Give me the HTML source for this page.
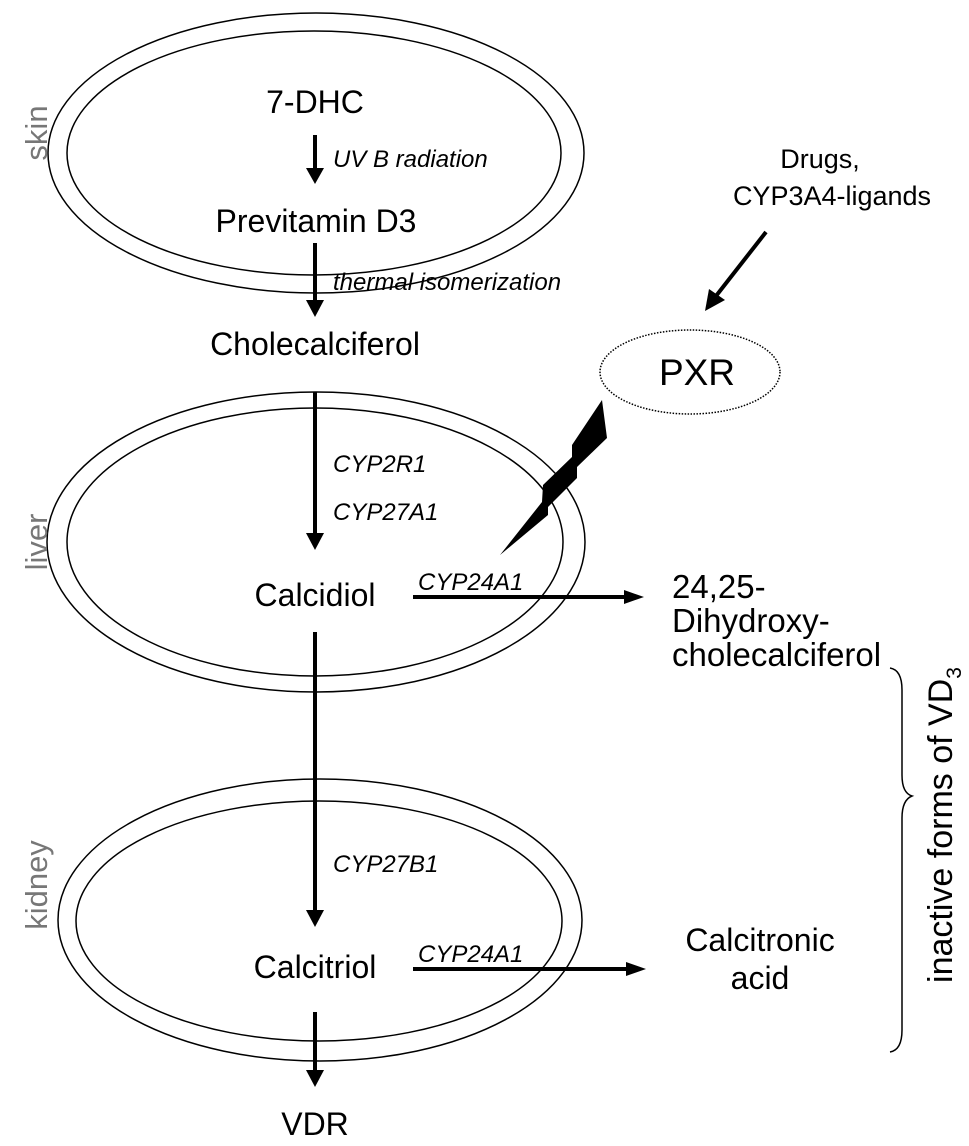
<!DOCTYPE html>
<html><head><meta charset="utf-8"><style>
html,body{margin:0;padding:0;background:#fff;}
svg{display:block;}
text{font-family:"Liberation Sans",Arial,sans-serif;fill:#000;}
.it{font-style:italic;font-size:24px;}
.big{font-size:32px;}
.org{font-size:31px;fill:#777;}
</style></head><body>
<svg width="969" height="1146" viewBox="0 0 969 1146" xmlns="http://www.w3.org/2000/svg">
<g fill="none" stroke="#000" stroke-width="1.5">
<ellipse cx="316" cy="153" rx="268" ry="140"/>
<ellipse cx="314" cy="153" rx="247" ry="122"/>
<ellipse cx="316" cy="542" rx="269" ry="150"/>
<ellipse cx="315" cy="542" rx="248" ry="134"/>
<ellipse cx="320" cy="920" rx="262" ry="141"/>
<ellipse cx="319" cy="921" rx="243" ry="120"/>
<ellipse cx="690" cy="372" rx="90" ry="42" stroke-dasharray="1.5 1.5"/>
</g>
<g stroke="#000" stroke-width="4" fill="none">
<line x1="315" y1="135" x2="315" y2="170"/>
<line x1="315" y1="243" x2="315" y2="303"/>
<line x1="315" y1="392" x2="315" y2="536"/>
<line x1="315" y1="632" x2="315" y2="913"/>
<line x1="315" y1="1012" x2="315" y2="1073"/>
<line x1="413" y1="597" x2="626" y2="597"/>
<line x1="413" y1="969" x2="628" y2="969"/>
<line x1="766" y1="232" x2="716" y2="296"/>
</g>
<g fill="#000">
<path d="M306,168 L324,168 L315,184 z"/>
<path d="M306,300 L324,300 L315,317 z"/>
<path d="M306,533 L324,533 L315,550 z"/>
<path d="M306,910 L324,910 L315,927 z"/>
<path d="M306,1070 L324,1070 L315,1087 z"/>
<path d="M624,590 L644,597 L624,604 z"/>
<path d="M626,962 L646,969 L626,976 z"/>
<path d="M709,289 L705,311 L725,300 z"/>
<path d="M602,400 L607,438 L577,467 L577,478 L548,507 L548,515 L500,555 L542,502 L543,485 L572,457 L572,445 z"/>
</g>
<path d="M890,668 Q902,670 902,690 L902,775 Q902,793 912,796 Q902,800 902,818 L902,1030 Q902,1050 890,1052" fill="none" stroke="#000" stroke-width="1.5"/>
<text class="big" x="315" y="113" text-anchor="middle">7-DHC</text>
<text class="it" x="333" y="167">UV B radiation</text>
<text class="big" x="316" y="232" text-anchor="middle">Previtamin D3</text>
<text class="it" x="333" y="290">thermal isomerization</text>
<text class="big" x="315" y="355" text-anchor="middle">Cholecalciferol</text>
<text class="it" x="333" y="472">CYP2R1</text>
<text class="it" x="333" y="520">CYP27A1</text>
<text class="big" x="315" y="606" text-anchor="middle">Calcidiol</text>
<text class="it" x="418" y="590">CYP24A1</text>
<text class="it" x="333" y="872">CYP27B1</text>
<text class="big" x="315" y="978" text-anchor="middle">Calcitriol</text>
<text class="it" x="418" y="962">CYP24A1</text>
<text class="big" x="315" y="1135" text-anchor="middle">VDR</text>
<text x="820" y="168" text-anchor="middle" style="font-size:27px">Drugs,</text>
<text x="832" y="205" text-anchor="middle" style="font-size:27px">CYP3A4-ligands</text>
<text x="697" y="385" text-anchor="middle" style="font-size:37px">PXR</text>
<text x="672" y="598" style="font-size:33px">24,25-</text>
<text x="672" y="632" style="font-size:33px">Dihydroxy-</text>
<text x="672" y="666" style="font-size:33px">cholecalciferol</text>
<text class="big" x="760" y="951" text-anchor="middle">Calcitronic</text>
<text class="big" x="760" y="989" text-anchor="middle">acid</text>
<text transform="translate(47,133) rotate(-90)" text-anchor="middle" class="org">skin</text>
<text transform="translate(47,542) rotate(-90)" text-anchor="middle" class="org">liver</text>
<text transform="translate(47,885) rotate(-90)" text-anchor="middle" class="org">kidney</text>
<text transform="translate(952,825) rotate(-90)" text-anchor="middle" style="font-size:34px">inactive forms of VD<tspan dy="9" style="font-size:21px">3</tspan></text>
</svg>
</body></html>
